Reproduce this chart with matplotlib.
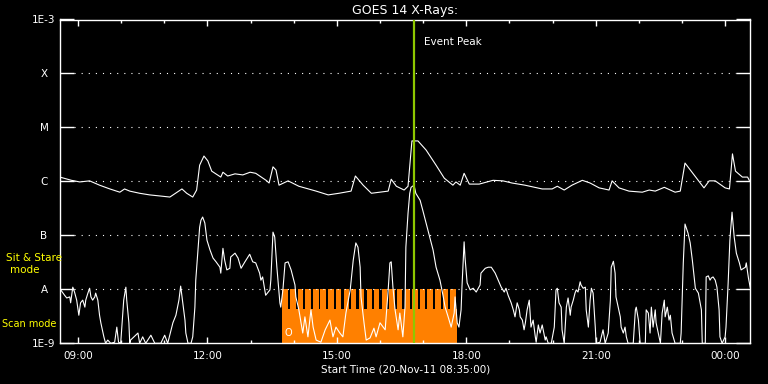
import numpy as np
import matplotlib
matplotlib.use("Agg")
import matplotlib.pyplot as plt

# GOES 14 X-ray flux, 20-Nov-11. Times in hours of day (24+ = next day),
# flux stored as log10(W/m^2)
long_t = [8.58, 8.85, 9.04, 9.27, 9.50, 9.74, 9.97, 10.08, 10.20, 10.43, 10.66, 10.90,
          11.13, 11.41, 11.52, 11.66, 11.75, 11.82, 11.92, 12.01, 12.10, 12.31, 12.36,
          12.47, 12.64, 12.82, 12.99, 13.12, 13.36, 13.43, 13.52, 13.59, 13.66, 13.87,
          14.12, 14.52, 14.80, 15.05, 15.33, 15.43, 15.61, 15.80, 16.19, 16.26, 16.38,
          16.56, 16.65, 16.74, 16.88, 17.07, 17.30, 17.49, 17.69, 17.76, 17.86, 17.95,
          18.07, 18.30, 18.62, 18.85, 19.06, 19.36, 19.76, 19.99, 20.11, 20.27, 20.45,
          20.69, 20.87, 21.08, 21.31, 21.38, 21.54, 21.77, 22.08, 22.24, 22.38, 22.59,
          22.84, 22.96, 23.07, 23.28, 23.51, 23.63, 23.77, 24.00, 24.10, 24.17, 24.24,
          24.40, 24.52, 24.56]
long_log = [-5.92, -5.98, -6.01, -5.99, -6.07, -6.14, -6.20, -6.14, -6.18, -6.22, -6.25, -6.27,
            -6.29, -6.14, -6.22, -6.29, -6.16, -5.70, -5.53, -5.62, -5.81, -5.92, -5.83,
            -5.90, -5.86, -5.88, -5.83, -5.85, -5.98, -6.03, -5.73, -5.79, -6.07, -5.99,
            -6.09, -6.18, -6.25, -6.22, -6.18, -5.90, -6.07, -6.22, -6.18, -5.96, -6.09,
            -6.16, -6.09, -5.25, -5.25, -5.42, -5.70, -5.94, -6.07, -6.01, -6.07, -5.85,
            -6.05, -6.05, -5.98, -5.99, -6.03, -6.07, -6.14, -6.14, -6.09, -6.16, -6.07,
            -5.98, -6.03, -6.12, -6.16, -5.99, -6.12, -6.18, -6.20, -6.16, -6.18, -6.11,
            -6.20, -6.18, -5.66, -5.88, -6.12, -5.99, -5.99, -6.12, -6.14, -5.49, -5.81,
            -5.92, -5.92, -5.98]

short_t = [8.60, 8.69, 8.74, 8.81, 8.83, 8.88, 8.92, 8.97, 9.02, 9.06, 9.11, 9.16, 9.18, 9.23,
           9.27, 9.30, 9.34, 9.39, 9.41, 9.46, 9.50, 9.53, 9.60, 9.64, 9.69, 9.76, 9.85, 9.90,
           9.94, 9.99, 10.06, 10.11, 10.13, 10.18, 10.20, 10.22, 10.39, 10.43, 10.50, 10.57,
           10.69, 10.78, 10.92, 11.01, 11.08, 11.20, 11.27, 11.34, 11.38, 11.43, 11.48, 11.50,
           11.55, 11.62, 11.66, 11.71, 11.73, 11.78, 11.82, 11.85, 11.89, 11.94, 11.99, 12.06,
           12.13, 12.20, 12.29, 12.31, 12.36, 12.40, 12.45, 12.52, 12.54, 12.64, 12.71, 12.78,
           12.87, 12.98, 13.05, 13.12, 13.21, 13.24, 13.28, 13.35, 13.45, 13.47, 13.52, 13.56,
           13.61, 13.68, 13.70, 13.75, 13.80, 13.87, 13.94, 14.03, 14.05, 14.12, 14.17, 14.21,
           14.26, 14.33, 14.40, 14.45, 14.52, 14.63, 14.73, 14.84, 14.91, 14.98, 15.07, 15.14,
           15.21, 15.31, 15.38, 15.44, 15.49, 15.54, 15.56, 15.63, 15.68, 15.77, 15.86, 15.91,
           16.00, 16.12, 16.19, 16.23, 16.26, 16.30, 16.35, 16.42, 16.46, 16.53, 16.58, 16.60,
           16.65, 16.69, 16.72, 16.79, 16.83, 16.93, 16.99, 17.11, 17.23, 17.30, 17.39, 17.46,
           17.51, 17.58, 17.65, 17.72, 17.74, 17.79, 17.83, 17.88, 17.90, 17.95, 17.97, 18.02,
           18.09, 18.16, 18.23, 18.32, 18.34, 18.44, 18.51, 18.58, 18.67, 18.74, 18.81, 18.88,
           18.92, 18.97, 19.04, 19.09, 19.13, 19.18, 19.23, 19.25, 19.30, 19.34, 19.37, 19.41,
           19.46, 19.50, 19.55, 19.60, 19.62, 19.67, 19.71, 19.76, 19.83, 19.85, 19.90, 19.97,
           20.04, 20.08, 20.11, 20.15, 20.20, 20.22, 20.27, 20.32, 20.36, 20.41, 20.43, 20.48,
           20.52, 20.55, 20.59, 20.64, 20.66, 20.71, 20.76, 20.78, 20.83, 20.87, 20.90, 20.94,
           20.99, 21.01, 21.10, 21.17, 21.22, 21.29, 21.34, 21.36, 21.41, 21.45, 21.47, 21.52,
           21.57, 21.59, 21.64, 21.68, 21.71, 21.75, 21.87, 21.92, 21.94, 21.99, 22.03, 22.15,
           22.17, 22.22, 22.26, 22.29, 22.33, 22.38, 22.40, 22.45, 22.50, 22.54, 22.59, 22.61,
           22.66, 22.70, 22.73, 22.77, 22.84, 22.96, 22.98, 23.03, 23.07, 23.14, 23.19, 23.24,
           23.31, 23.38, 23.45, 23.47, 23.54, 23.56, 23.61, 23.65, 23.68, 23.72, 23.77, 23.81,
           23.86, 23.88, 23.93, 24.00, 24.02, 24.07, 24.11, 24.16, 24.21, 24.26, 24.33, 24.37,
           24.47, 24.49, 24.54, 24.58]
short_log = [-8.01, -8.11, -8.16, -8.14, -8.25, -7.96, -8.05, -8.20, -8.48, -8.25, -8.20, -8.33,
             -8.20, -8.07, -7.98, -8.14, -8.20, -8.14, -8.07, -8.20, -8.48, -8.62, -8.88, -9.0,
             -8.94, -9.0, -8.98, -8.70, -8.98, -9.0, -8.20, -7.96, -8.20, -8.62, -9.0, -8.94,
             -8.81, -9.0, -8.88, -9.0, -8.85, -9.0, -9.0, -8.85, -9.0, -8.62, -8.48, -8.20,
             -7.94, -8.25, -8.57, -8.81, -9.0, -9.0, -8.88, -8.33, -7.83, -7.27, -6.85, -6.72,
             -6.66, -6.77, -7.09, -7.27, -7.42, -7.49, -7.59, -7.70, -7.24, -7.46, -7.64, -7.61,
             -7.40, -7.33, -7.42, -7.61, -7.49, -7.35, -7.49, -7.51, -7.70, -7.83, -7.77, -8.11,
             -8.01, -7.83, -6.94, -7.03, -7.59, -8.25, -8.33, -8.01, -7.51, -7.49, -7.64, -7.92,
             -8.14, -8.38, -8.62, -8.81, -8.51, -8.88, -8.38, -8.70, -8.94, -8.98, -8.75, -8.57,
             -8.88, -8.70, -8.81, -8.88, -8.44, -8.01, -7.46, -7.14, -7.22, -7.59, -8.14, -8.62,
             -8.94, -8.90, -8.72, -8.88, -8.62, -8.75, -8.01, -7.51, -7.49, -7.96, -8.38, -8.75,
             -8.44, -8.88, -8.33, -7.22, -6.59, -6.22, -6.11, -6.07, -6.22, -6.35, -6.53, -6.90,
             -7.27, -7.59, -7.83, -8.11, -8.33, -8.51, -8.70, -8.44, -8.14, -8.62, -8.70, -8.38,
             -7.96, -7.12, -7.40, -7.88, -8.01, -7.98, -8.05, -7.92, -7.70, -7.61, -7.59, -7.59,
             -7.70, -7.83, -7.96, -8.05, -7.98, -8.11, -8.25, -8.38, -8.51, -8.25, -8.38, -8.51,
             -8.57, -8.75, -8.62, -8.38, -8.20, -8.70, -8.57, -8.88, -8.98, -8.66, -8.81, -8.66,
             -8.94, -8.88, -9.0, -9.0, -8.70, -8.01, -7.98, -8.25, -8.33, -8.75, -9.0, -8.33,
             -8.16, -8.48, -8.33, -8.20, -8.07, -8.01, -8.05, -7.86, -7.92, -7.98, -7.96, -8.38,
             -8.70, -8.20, -7.98, -8.07, -8.70, -9.0, -8.98, -8.75, -9.0, -8.81, -8.20, -7.59,
             -7.48, -7.70, -8.14, -8.33, -8.51, -8.70, -8.81, -8.70, -8.88, -9.0, -9.0, -8.38,
             -8.33, -8.57, -9.0, -9.0, -8.38, -8.44, -8.81, -8.33, -8.70, -8.38, -8.62, -8.81,
             -9.0, -8.44, -8.20, -8.51, -8.33, -8.57, -8.48, -8.81, -9.0, -9.0, -8.81, -7.51,
             -6.79, -6.96, -7.14, -7.46, -7.98, -8.07, -8.38, -9.0, -9.0, -7.77, -7.75, -7.83,
             -7.79, -7.77, -7.83, -7.96, -8.38, -8.88, -9.0, -8.88, -8.70, -7.88, -7.09, -6.57,
             -7.03, -7.33, -7.51, -7.64, -7.59, -7.51, -7.79, -7.96]

# observing mode (orange): scan block and sit & stare dwell starts
scan_start, scan_end = 13.74, 17.79
dwell_starts = [13.74, 13.92, 14.09, 14.27, 14.45, 14.62, 14.80, 14.98, 15.16, 15.33,
                15.51, 15.69, 15.86, 16.04, 16.22, 16.39, 16.57, 16.75, 16.93, 17.10,
                17.28, 17.46, 17.63]
dwell_len = 0.125
event_peak = 16.79

levels = [1e-9, 1e-8, 1e-7, 1e-6, 1e-5, 1e-4, 1e-3]
level_labels = ['1E-9', 'A', 'B', 'C', 'M', 'X', '1E-3']
hour_ticks = [9, 12, 15, 18, 21, 24]
hour_labels = ['09:00', '12:00', '15:00', '18:00', '21:00', '00:00']

W, H = 768, 384
fig = plt.figure(figsize=(W / 100, H / 100), dpi=100, facecolor='black')
ax = fig.add_axes([60 / W, 1 - 343.3 / H, 690.3 / W, 323.8 / H])
ax.set_facecolor('black')
ax.set_yscale('log')
ax.set_xlim(8 + 35 / 60, 24 + 35 / 60)
ax.set_ylim(1e-9, 1e-3)

orange = '#ff8000'
solid_top = 4.27e-9
ax.fill_between([scan_start, scan_end], 1e-9, solid_top, color=orange, lw=0, zorder=1)
widths = [min(dwell_len, scan_end - s) for s in dwell_starts]
ax.bar(dwell_starts, 1e-8 - solid_top, width=widths, bottom=solid_top, align='edge',
       color=orange, lw=0, zorder=1)

for lvl in levels[1:-1]:
    ax.axhline(lvl, xmin=14 / 690, xmax=1 - 14 / 690, color='white', lw=0.8,
               ls=(0, (1, 5.4)), zorder=2)

ax.plot(long_t, 10 ** np.array(long_log), color='white', lw=0.8, zorder=3)
ax.plot(short_t, 10 ** np.array(short_log), color='white', lw=0.8, zorder=3)

ax.axvline(event_peak, color='#8ec800', lw=1.6, zorder=4)
ax.annotate('Event Peak', xy=(event_peak, 0.929), xycoords=('data', 'axes fraction'),
            xytext=(7, 0), textcoords='offset points', va='center', ha='left',
            color='white', fontsize=7.5)
ax.text(13.87, 1.55e-9, 'O', color='white', fontsize=7, ha='center', va='center', zorder=3)

ax.set_yticks(levels)
ax.set_yticklabels(level_labels)
ax.yaxis.set_minor_locator(matplotlib.ticker.NullLocator())
for lbl in ax.get_yticklabels():
    lbl.set_ha('center')
ax.tick_params(axis='y', which='major', direction='in', length=10.3, width=1,
               colors='white', labelsize=7.5, pad=11.5, right=True)

ax.set_xticks(hour_ticks)
ax.set_xticklabels(hour_labels)
ax.set_xticks(range(9, 25), minor=True)
ax.tick_params(axis='x', which='major', direction='in', length=4.3, width=1,
               colors='white', labelsize=7.5, pad=5.5, top=True)
ax.tick_params(axis='x', which='minor', direction='in', length=2.5, width=1,
               colors='white', top=True)

for sp in ax.spines.values():
    sp.set_color('white')
    sp.set_linewidth(1)

ax.set_title('GOES 14 X-Rays:', color='white', fontsize=9, pad=4)
ax.set_xlabel('Start Time (20-Nov-11 08:35:00)', color='white', fontsize=7.5, labelpad=2.5)

fig.text(34 / W, 1 - 258 / H, 'Sit & Stare', color='yellow', fontsize=7.5, ha='center', va='center')
fig.text(24.5 / W, 1 - 270 / H, 'mode', color='yellow', fontsize=7.5, ha='center', va='center')
fig.text(29 / W, 1 - 324 / H, 'Scan mode', color='yellow', fontsize=7, ha='center', va='center')

fig.savefig('out.png', dpi=100, facecolor='black')
